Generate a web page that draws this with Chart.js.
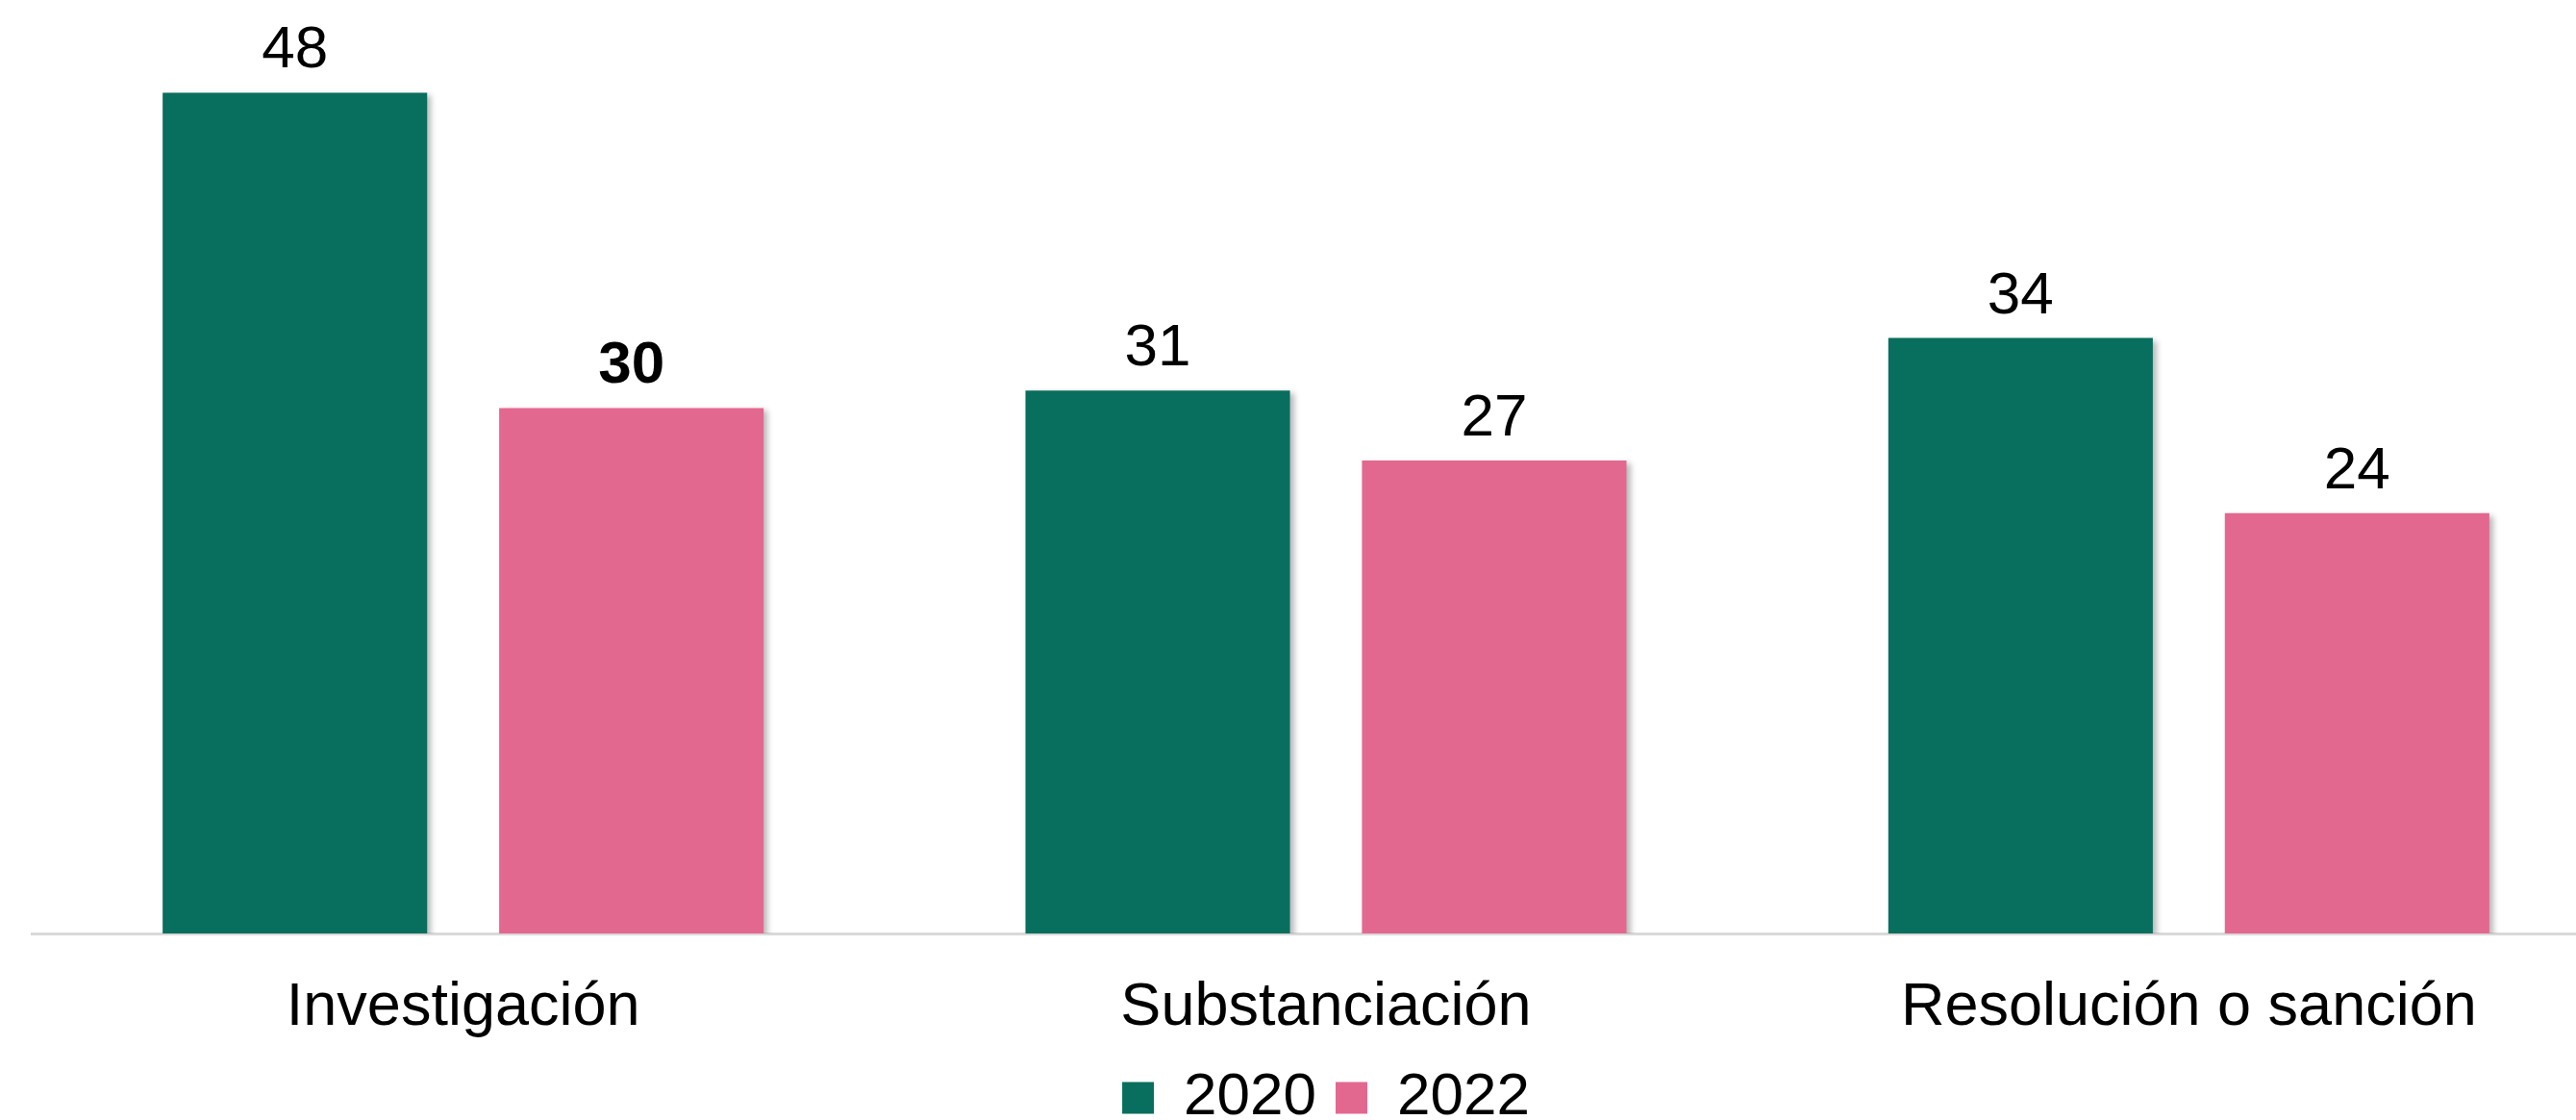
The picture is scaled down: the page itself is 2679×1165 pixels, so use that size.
<!DOCTYPE html>
<html>
<head>
<meta charset="utf-8">
<script src="https://cdn.jsdelivr.net/npm/chart.js@4.4.1/dist/chart.umd.min.js"></script>
<style>
  html, body { margin: 0; padding: 0; background: #fff; overflow: hidden; }
  #wrap { position: absolute; left: 0; top: 0; width: 2760px; height: 1183px; }
</style>
</head>
<body>
<div id="wrap"><canvas id="chart"></canvas></div>
<script>
// categorías y series
const categorias = ['Investigación', 'Substanciación', 'Resolución o sanción'];
const serie2020 = [48, 31, 34];
const serie2022 = [30, 27, 24];
const anios = ['2020', '2022'];
const colores = ['#086E5D', '#E3688F'];
// etiqueta en negrita (dataset, índice)
const negritas = [[1, 0]];

const FUENTE = '"Liberation Sans", Arial, sans-serif';

// sombra suave de las barras
const sombraBarras = {
  id: 'sombraBarras',
  beforeDatasetsDraw(chart) {
    const ctx = chart.ctx;
    ctx.save();
    ctx.shadowColor = 'rgba(0,0,0,0.28)';
    ctx.shadowOffsetX = 4;
    ctx.shadowOffsetY = 3;
    ctx.shadowBlur = 6;
  },
  afterDatasetsDraw(chart) {
    chart.ctx.restore();
  }
};

// valores encima de cada barra
const etiquetas = {
  id: 'etiquetas',
  afterDatasetsDraw(chart) {
    const ctx = chart.ctx;
    ctx.save();
    ctx.fillStyle = '#000';
    ctx.textAlign = 'center';
    ctx.textBaseline = 'alphabetic';
    chart.data.datasets.forEach((ds, di) => {
      chart.getDatasetMeta(di).data.forEach((bar, i) => {
        const bold = negritas.some(n => n[0] === di && n[1] === i);
        ctx.font = (bold ? 'bold ' : '') + '62px ' + FUENTE;
        ctx.fillText(String(ds.data[i]), bar.x, bar.y - 26);
      });
    });
    ctx.restore();
  }
};

new Chart(document.getElementById('chart'), {
  type: 'bar',
  data: {
    labels: categorias,
    datasets: [
      { label: anios[0], data: serie2020, backgroundColor: colores[0] },
      { label: anios[1], data: serie2022, backgroundColor: colores[1] }
    ]
  },
  options: {
    responsive: true,
    maintainAspectRatio: false,
    animation: false,
    categoryPercentage: 0.78,
    barPercentage: 0.786,
    layout: { padding: { left: 33, right: 35, top: 60, bottom: 0 } },
    plugins: {
      legend: {
        position: 'bottom',
        labels: {
          boxWidth: 33,
          boxHeight: 33,
          padding: 20,
          color: '#000',
          font: { size: 62, family: FUENTE }
        }
      },
      tooltip: { enabled: false }
    },
    scales: {
      x: {
        grid: { display: false, drawTicks: false },
        border: { display: true, color: '#d9d9d9', width: 3 },
        ticks: { color: '#000', padding: 40, font: { size: 63, family: FUENTE } },
        afterFit: s => { s.height = 120; }
      },
      y: {
        display: false,
        min: 0,
        max: 50
      }
    }
  },
  plugins: [sombraBarras, etiquetas]
});
</script>
</body>
</html>
